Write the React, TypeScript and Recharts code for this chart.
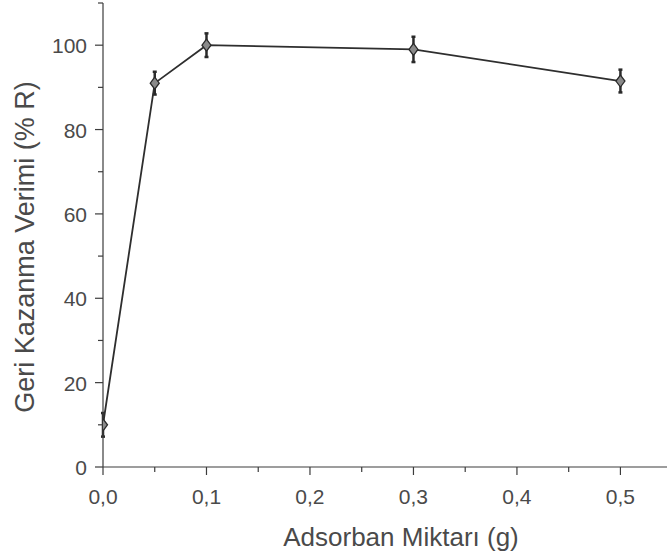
import { LineChart, Line, XAxis, YAxis, ErrorBar, Label } from 'recharts';

// adsorbent amount (g) vs recovery (% R)
const amounts = [0, 0.05, 0.1, 0.3, 0.5];
const recovery = [10, 91, 100, 99, 91.5];
const errors = [2.8, 2.7, 2.8, 3, 2.7];

const xTicks = [0, 0.05, 0.1, 0.15, 0.2, 0.25, 0.3, 0.35, 0.4, 0.45, 0.5];
const yTicks = [0, 10, 20, 30, 40, 50, 60, 70, 80, 90, 100, 110];

const data = amounts.map((a, i) => ({ amount: a, recovery: recovery[i], err: errors[i] }));

const FONT = '"Liberation Sans", Arial, sans-serif';
const INK = '#3c3c3c';
const TEXT = '#4a4a4a';

function XTick(props: any) {
  const { x, y, payload } = props;
  const v = payload.value as number;
  const major = Math.round(v * 100) % 10 === 0;
  return (
    <g>
      <line x1={x} x2={x} y1={y} y2={y + (major ? 8 : 5)} stroke={INK} strokeWidth={1.2} />
      {major && (
        <text x={x} y={y + 37} textAnchor="middle" fontSize={21} fontFamily={FONT} fill={TEXT}>
          {v.toFixed(1).replace('.', ',')}
        </text>
      )}
    </g>
  );
}

function YTick(props: any) {
  const { x, y, payload } = props;
  const v = payload.value as number;
  const major = v % 20 === 0;
  return (
    <g>
      <line x1={x} x2={x - (major ? 8 : 5)} y1={y} y2={y} stroke={INK} strokeWidth={1.2} />
      {major && (
        <text x={x - 16} y={y + 8} textAnchor="end" fontSize={21} fontFamily={FONT} fill={TEXT}>
          {v}
        </text>
      )}
    </g>
  );
}

function Diamond(props: any) {
  const { cx, cy, index } = props;
  return (
    <path
      key={`dot-${index}`}
      d={`M${cx},${cy - 6} L${cx + 4.5},${cy} L${cx},${cy + 6} L${cx - 4.5},${cy} Z`}
      fill="#8a8a8a"
      stroke="#2a2a2a"
      strokeWidth={1.3}
    />
  );
}

export default function App() {
  return (
    <div style={{ position: 'absolute', left: 0, top: 0, background: '#fff' }}>
      <LineChart width={667} height={560} data={data} margin={{ top: 3, right: 0, bottom: 0, left: 0 }}>
        <XAxis
          dataKey="amount"
          type="number"
          domain={[0, 0.545]}
          ticks={xTicks}
          interval={0}
          height={93}
          tickSize={0}
          tickMargin={0}
          tickLine={false}
          tick={<XTick />}
          stroke={INK}
          strokeWidth={1.2}
          allowDataOverflow
        >
          <Label
            content={() => (
              <text x={401} y={546} textAnchor="middle" fontSize={26} fontFamily={FONT} fill={TEXT}>
                Adsorban Miktarı (g)
              </text>
            )}
          />
        </XAxis>
        <YAxis
          type="number"
          domain={[0, 110]}
          ticks={yTicks}
          interval={0}
          width={103}
          tickSize={0}
          tickMargin={0}
          tickLine={false}
          tick={<YTick />}
          stroke={INK}
          strokeWidth={1.2}
        >
          <Label
            content={() => (
              <text
                x={25}
                y={247}
                transform="rotate(-90 25 247)"
                textAnchor="middle"
                dominantBaseline="central"
                fontSize={27}
                fontFamily={FONT}
                fill={TEXT}
              >
                Geri Kazanma Verimi (% R)
              </text>
            )}
          />
        </YAxis>
        <Line
          type="linear"
          dataKey="recovery"
          stroke="#2e2e2e"
          strokeWidth={1.8}
          dot={<Diamond />}
          activeDot={false}
          isAnimationActive={false}
        >
          <ErrorBar dataKey="err" direction="y" width={2} stroke="#2a2a2a" strokeWidth={2.5} isAnimationActive={false} />
        </Line>
      </LineChart>
    </div>
  );
}
